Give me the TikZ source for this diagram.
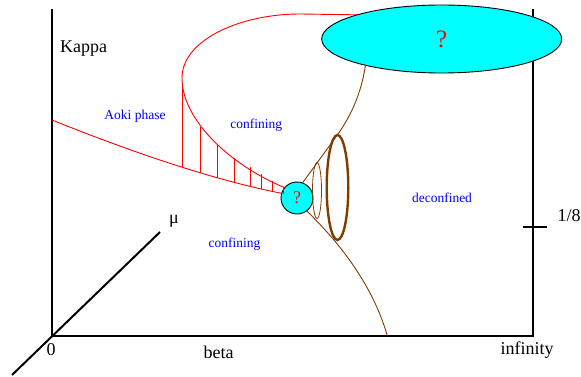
\documentclass[tikz,border=0pt]{standalone}
\usepackage{fontspec}
\setmainfont{Liberation Serif}
\usetikzlibrary{shapes.geometric}
\definecolor{phasered}{HTML}{FF0000}
\definecolor{phaseblue}{HTML}{0000FF}
\definecolor{qcyan}{HTML}{00FFFF}
\definecolor{conebrown}{HTML}{803C00}

\begin{document}
\begin{tikzpicture}[x=1pt, y=-1pt,
    axislabel/.style={font=\fontsize{18}{20}\selectfont, text=black, inner sep=0pt, anchor=base},
    phaselabel/.style={font=\fontsize{13.5}{15}\selectfont, text=phaseblue, inner sep=0pt},
    redline/.style={draw=phasered, line width=0.9pt},
    brownline/.style={draw=conebrown, line width=0.9pt}]
  \useasboundingbox (0,0) rectangle (581,377);

  % Ejes
  \coordinate (O) at (52,335.7);
  \coordinate (ktop) at (52,9);
  \coordinate (kmid) at (52,120);
  \coordinate (binf) at (533.3,335.7);
  \coordinate (rtop) at (533.3,9);
  \coordinate (bcross) at (387.3,335.7);
  \coordinate (mutop) at (160,232);
  \coordinate (mubot) at (12,375);
  \coordinate (tickL) at (522.7,226.7);
  \coordinate (tickR) at (546.7,226.7);
  \draw[line width=2pt] (ktop) -- (O) -- (binf) -- (rtop);
  \draw[line width=2pt] (mubot) -- (mutop);
  \draw[line width=2pt] (tickL) -- (tickR);

  % Etiquetas de los ejes
  \node[axislabel] (kappa) at (83.5,52.3) {Kappa};
  \node[axislabel] (zero) at (51,355) {0};
  \node[axislabel] (beta) at (218.7,358) {beta};
  \node[axislabel] (infty) at (527,354) {infinity};
  \node[axislabel] (mu) at (174,223.5) {μ};
  \node[axislabel] (eighth) at (569,221) {1/8};

  % Regiones desconocidas
  \node[draw=black, fill=qcyan, ellipse, line width=0.9pt, minimum width=240pt, minimum height=68pt,
        inner sep=0pt, outer sep=0pt, font=\fontsize{25}{28}\selectfont, text=phasered] (bigq) at (441.7,39) {?};
  \node[draw=black, fill=qcyan, circle, line width=0.9pt, minimum size=32pt,
        inner sep=0pt, outer sep=0pt, font=\fontsize{18}{20}\selectfont, text=phasered] (smallq) at (297,198) {?};

  % Fase de Aoki
  \draw[redline] (kmid) .. controls (144,157) and (221,181.5) .. (smallq.163);
  \draw[redline] (bigq.164) -- (300,14) .. controls (240,14) and (182,40) .. (182,78)
    .. controls (182,120) and (230,165) .. (smallq.140);
  \foreach \hx/\htop/\hbot in {182/85/167, 200/127/173, 217/145/178, 234/158/183,
                               250/167/186, 261/174/189, 272/181/191, 283/187/194}
    \draw[redline, line width=0.7pt] (\hx,\htop) -- (\hx,\hbot);

  % Cono de deconfinamiento
  \draw[brownline] (smallq.70) -- (338,134) .. controls (350,117) and (361,95) .. (bigq.199);
  \draw[brownline] (smallq.-53) .. controls (348.1,251.1) and (374.9,292.8) .. (bcross);
  \draw[conebrown, line width=0.8pt] (317,190.5) ellipse [x radius=4.5, y radius=28];
  \draw[conebrown, line width=2.4pt] (337.5,187.5) ellipse [x radius=10.8, y radius=52.5];

  % Fases
  \node[phaselabel] (aoki) at (135,116) {Aoki phase};
  \node[phaselabel] (confup) at (256.3,125.5) {confining};
  \node[phaselabel] (confdown) at (234.5,244.5) {confining};
  \node[phaselabel] (deconf) at (442,198) {deconfined};
\end{tikzpicture}
\end{document}
